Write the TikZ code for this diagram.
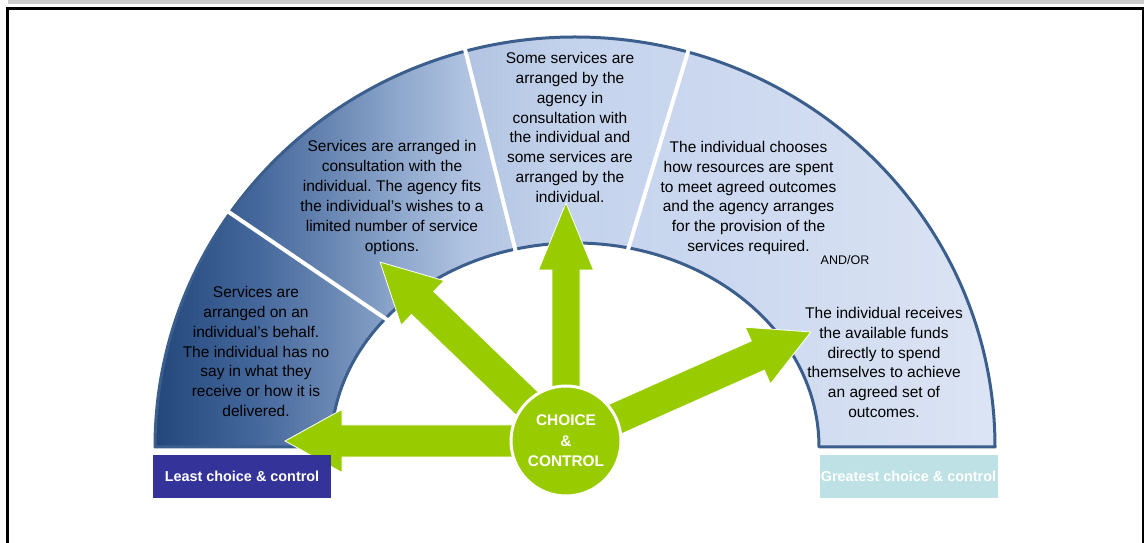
\documentclass[tikz,border=0pt]{standalone}
\usepackage{fontspec}
\setmainfont{Liberation Sans}
\usetikzlibrary{calc}
\frenchspacing

\definecolor{archline}{HTML}{3B5E8C}
\definecolor{rayfill}{HTML}{99CC00}
\definecolor{leastfill}{HTML}{333399}
\definecolor{greatfill}{HTML}{BDE1E4}
\definecolor{framegray}{HTML}{CCCCCC}
\definecolor{ac1}{HTML}{23477B}
\definecolor{ac2}{HTML}{42659A}
\definecolor{ac3}{HTML}{6886B2}
\definecolor{ac4}{HTML}{8FA8CD}
\definecolor{ac5}{HTML}{B2C4E2}
\definecolor{ac6}{HTML}{C4D3EC}
\definecolor{ac7}{HTML}{CAD7EF}
\definecolor{ac8}{HTML}{D6E0F2}
\definecolor{ac9}{HTML}{DCE4F4}

% left-to-right blue ramp of the arch
\pgfdeclarehorizontalshading{archfill}{100bp}{%
  color(0bp)=(ac1); color(25bp)=(ac1); color(30.7bp)=(ac2); color(35.4bp)=(ac3);
  color(39.6bp)=(ac4); color(43.75bp)=(ac5); color(49.7bp)=(ac6);
  color(57.4bp)=(ac7); color(69.3bp)=(ac8); color(75bp)=(ac9); color(100bp)=(ac9)}

% block arrow leaving the hub: angle, tip distance, shaft half width, head half width, head length
\newcommand\ccray[5]{%
  \fill[rayshape, shift={(hub.center)}, rotate=#1]
    (0,-#3) -- ({#2-#5},-#3) -- ({#2-#5},-#4) -- (#2,0) -- ({#2-#5},#4)
    -- ({#2-#5},#3) -- (0,#3) -- cycle;}

\begin{document}
\begin{tikzpicture}[x=1pt,y=1pt,
  segtext/.style={align=center, inner sep=0pt, text=black,
    font=\fontsize{15.5}{19.9}\selectfont},
  smalltext/.style={inner sep=0pt, text=black, font=\fontsize{12.5}{14}\selectfont},
  hubnode/.style={circle, fill=rayfill, draw=white, line width=3pt,
    minimum size=110pt, inner sep=0pt, align=center, text=white,
    font=\fontsize{15.4}{20.5}\selectfont\bfseries},
  endbox/.style={minimum width=178pt, minimum height=43pt, inner sep=0pt,
    text=white, font=\fontsize{14.4}{16}\selectfont\bfseries},
  rayshape/.style={fill=rayfill, draw=white, line width=0.8pt, line join=miter},
  divider/.style={draw=white, line width=4pt},
  archedge/.style={draw=archline, line width=3pt, line join=round}]

\useasboundingbox (0,0) rectangle (1144,543);

% page frame
\fill[framegray] (8,539) rectangle (1144,543);
\fill[black] (6,533) rectangle (1144,536);
\fill[black] (6,0) rectangle (9,536);
\fill[black] (1142,0) rectangle (1144,536);

% the arch
\coordinate (C) at (575,96);
\shade[shading=archfill] (155,96) arc[start angle=180, end angle=0, x radius=420, y radius=410]
  -- (819,96) arc[start angle=0, end angle=180, x radius=244, y radius=204] -- cycle;
\path[archedge] (155,96) arc[start angle=180, end angle=0, x radius=420, y radius=410]
  -- (819,96) arc[start angle=0, end angle=180, x radius=244, y radius=204] -- cycle;

% white dividers between the four bands
\draw[divider] ($(C)+(145.2:424 and 414)$) -- ($(C)+(140.9:240 and 200)$);
\draw[divider] ($(C)+(105.1:424 and 414)$) -- ($(C)+(104.2:240 and 200)$);
\draw[divider] ($(C)+(74.4:424 and 414)$) -- ($(C)+(77.4:240 and 200)$);

% band texts
\node[segtext] (band1) at (256,191.5) {Services are\\arranged on an\\individual’s behalf.\\The individual has no\\say in what they\\receive or how it is\\delivered.};
\node[segtext] (band2) at (392,345.5) {Services are arranged in\\consultation with the\\individual. The agency fits\\the individual’s wishes to a\\limited number of service\\options.};
\node[segtext] (band3) at (570,415.5) {Some services are\\arranged by the\\agency in\\consultation with\\the individual and\\some services are\\arranged by the\\individual.};
\node[segtext] (band4a) at (748.5,345) {The individual chooses\\how resources are spent\\to meet agreed outcomes\\and the agency arranges\\for the provision of the\\services required.};
\node[smalltext] (andor) at (845,283) {AND/OR};
\node[segtext] (band4b) at (884,180.5) {The individual receives\\the available funds\\directly to spend\\themselves to achieve\\an agreed set of\\outcomes.};

% hub position, arrows, then the hub on top
\coordinate (hub) at (566,102);
\ccray{180}{281}{16}{31.5}{57}
\ccray{136.1}{258}{16}{31}{59}
\ccray{90}{238}{14}{27.5}{67}
\ccray{24}{268}{16}{31}{58}
\node[hubnode] (hub) at (566,102) {CHOICE\\\&\\CONTROL};

% scale ends
\node[endbox, fill=leastfill] (least) at (242,66.5) {Least choice \& control};
\node[endbox, fill=greatfill] (great) at (908.5,66.5) {Greatest choice \& control};
\end{tikzpicture}
\end{document}
